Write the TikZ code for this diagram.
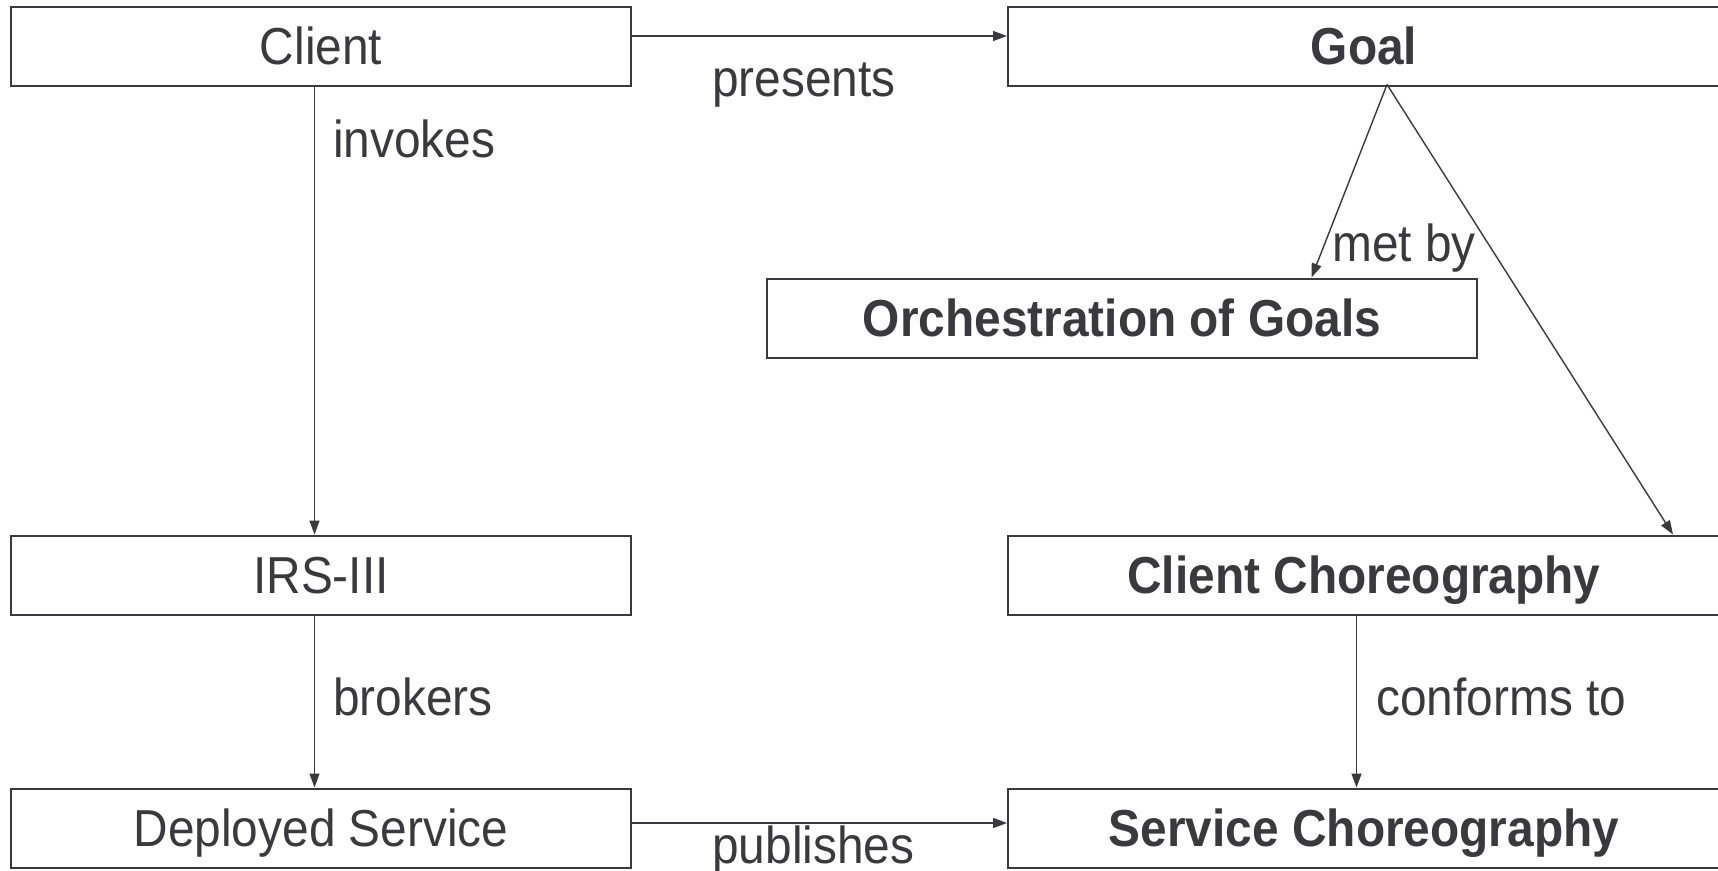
\documentclass[tikz,border=0pt]{standalone}
\usepackage{fontspec}
\setmainfont[FakeStretch=0.92]{Liberation Sans}
\usetikzlibrary{arrows.meta}
\definecolor{ink}{RGB}{58,58,62}
\begin{document}
\begin{tikzpicture}[x=1pt,y=1pt,
  font=\fontsize{52}{60}\selectfont,
  box/.style={draw=ink,line width=2pt,text=ink,inner sep=0pt,minimum height=79pt,text height=37pt,text depth=0pt,anchor=center},
  lbox/.style={box,minimum width=620pt},
  rbox/.style={box,minimum width=712pt,font=\fontsize{52}{60}\selectfont\bfseries},
  conn/.style={draw=ink,line width=1.4pt,-{Triangle[length=14pt,width=10pt]}},
  lab/.style={text=ink,inner sep=0pt,text height=37pt,text depth=0pt,anchor=west}]
\useasboundingbox (0,0) rectangle (1718,-870);
\node[lbox] (client) at (321,-46) {Client};
\node[rbox] (goal) at (1364,-46) {Goal};
\node[box,minimum width=710pt,font=\fontsize{52}{60}\selectfont\bfseries] (orch) at (1122,-318) {Orchestration of Goals};
\node[lbox] (irs) at (321,-575) {IRS-III};
\node[rbox] (cc) at (1364,-575) {Client Choreography};
\node[lbox] (ds) at (321,-828) {Deployed Service};
\node[rbox] (sc) at (1364,-828) {Service Choreography};

\draw[conn] ([yshift=10pt]client.east) -- ([yshift=10pt]goal.west);
\node[lab] (presents) at (712,-78) {presents};
\draw[conn] ([xshift=-6.5pt,yshift=2pt]client.south) -- ([xshift=-6.5pt]irs.north);
\node[lab] (invokes) at (333,-139) {invokes};
\draw[conn] ([xshift=-6.5pt,yshift=2pt]irs.south) -- ([xshift=-6.5pt]ds.north);
\node[lab] (brokers) at (333,-697) {brokers};
\draw[conn] ([yshift=5pt]ds.east) -- ([yshift=5pt]sc.west);
\node[lab] (publishes) at (712,-845) {publishes};
\coordinate (apex) at ([xshift=23pt,yshift=2pt]goal.south);
\draw[conn] (apex) -- ([xshift=189.5pt]orch.north);
\node[lab] (metby) at (1332,-243) {met by};
\draw[conn] (apex) -- ([xshift=309pt]cc.north);
\draw[conn] ([xshift=-7.5pt,yshift=2pt]cc.south) -- ([xshift=-7.5pt]sc.north);
\node[lab] (conforms) at (1376,-697) {conforms to};
\end{tikzpicture}
\end{document}
